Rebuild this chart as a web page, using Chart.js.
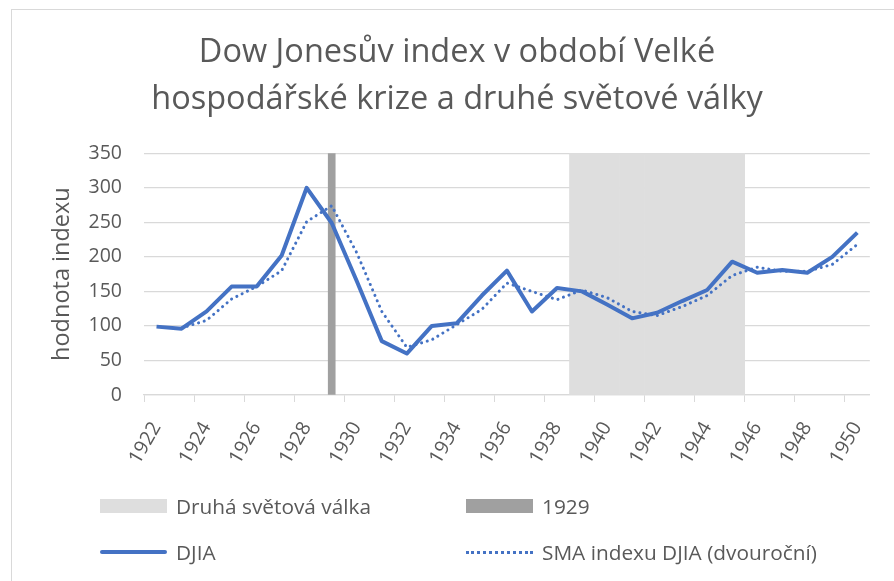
<!DOCTYPE html>
<html>
<head>
<meta charset="utf-8">
<script src="https://cdn.jsdelivr.net/npm/chart.js@4/dist/chart.umd.min.js"></script>
<style>
    html, body { margin: 0; padding: 0; background: #fff; }
    body { width: 894px; height: 581px; position: relative; overflow: hidden; font-family: "Open Sans", Lato, sans-serif; }
    .frame { position: absolute; left: 11px; top: 9px; width: 1000px; height: 700px; border: 1px solid #d9d9d9; }
    .chart-box { position: absolute; left: 0; top: 0; width: 894px; height: 581px; }
    .legend { position: absolute; left: 0; top: 0; color: #595959; font-size: 20.8px; }
    .legend__item { position: absolute; display: flex; align-items: center; white-space: nowrap; height: 26px; }
    .legend__swatch { width: 67px; height: 14px; margin-right: 9px; }
    .legend__line { width: 67px; height: 0; margin-right: 9px; }
</style>
</head>
<body>
<div class="frame"></div>
<div class="chart-box"><canvas id="djiaChart" width="894" height="581"></canvas></div>
<div class="legend">
    <div class="legend__item" style="left:100px; top:493px;">
        <span class="legend__swatch" style="background:#dedede;"></span>Druhá světová válka
    </div>
    <div class="legend__item" style="left:466px; top:493px;">
        <span class="legend__swatch" style="background:#a0a0a0;"></span>1929
    </div>
    <div class="legend__item" style="left:100px; top:539px;">
        <span class="legend__line" style="border-top:4px solid #4472c4; border-radius:2px;"></span>DJIA
    </div>
    <div class="legend__item" style="left:466px; top:539px;">
        <span class="legend__line" style="border-top:3px dotted #4472c4;"></span>SMA indexu DJIA (dvouroční)
    </div>
</div>
<script>
const years = ['1922', '1923', '1924', '1925', '1926', '1927', '1928', '1929', '1930', '1931',
    '1932', '1933', '1934', '1935', '1936', '1937', '1938', '1939', '1940', '1941',
    '1942', '1943', '1944', '1945', '1946', '1947', '1948', '1949', '1950'];

const djia = [99, 96, 121, 157, 157, 202, 300, 249, 165, 78,
    60, 100, 104, 144, 180, 121, 155, 150, 131, 111,
    119, 136, 152, 193, 177, 181, 177, 200, 235];

const smaTwoYear = [null, 97, 108, 139, 157, 180, 251, 274, 206, 121,
    69, 80, 102, 124, 162, 150, 138, 152, 141, 121,
    115, 128, 144, 173, 185, 179, 179, 189, 218];

// shaded band 1939-1945 and the 1929 marker, both full axis height
const warBand = [null, null, null, null, null, null, null, null, null, null,
    null, null, null, null, null, null, null, 350, 350, 350,
    350, 350, 350, 350, null, null, null, null, null];

const crash1929 = [null, null, null, null, null, null, null, 350, null, null,
    null, null, null, null, null, null, null, null, null, null,
    null, null, null, null, null, null, null, null, null];

const yTicks = [0, 50, 100, 150, 200, 250, 300, 350];

const textColor = '#595959';
const gridColor = '#d9d9d9';
const fontFamily = '"Open Sans", Lato, sans-serif';

new Chart(document.getElementById('djiaChart'), {
    data: {
        labels: years,
        datasets: [
            {
                type: 'line',
                label: 'DJIA',
                data: djia,
                borderColor: '#4472c4',
                borderWidth: 4,
                pointRadius: 0,
                tension: 0,
                borderJoinStyle: 'round',
                order: 1,
            },
            {
                type: 'line',
                label: 'SMA indexu DJIA (dvouroční)',
                data: smaTwoYear,
                borderColor: '#4472c4',
                borderWidth: 3,
                borderDash: [0.1, 5.8],
                borderCapStyle: 'round',
                pointRadius: 0,
                tension: 0,
                order: 2,
            },
            {
                type: 'bar',
                label: '1929',
                data: crash1929,
                backgroundColor: '#a0a0a0',
                barThickness: 7,
                grouped: false,
                order: 3,
            },
            {
                type: 'bar',
                label: 'Druhá světová válka',
                data: warBand,
                backgroundColor: '#dedede',
                barPercentage: 1,
                categoryPercentage: 1,
                grouped: false,
                order: 4,
            },
        ],
    },
    options: {
        responsive: false,
        animation: false,
        layout: {
            padding: { left: 44, right: 24, top: 0, bottom: 108 },
        },
        plugins: {
            legend: { display: false },
            tooltip: { enabled: false },
            title: {
                display: true,
                text: ['Dow Jonesův index v období Velké', 'hospodářské krize a druhé světové války'],
                color: textColor,
                font: { family: fontFamily, size: 32.5, weight: 'normal', lineHeight: 1.45 },
                padding: { top: 29, bottom: 30 },
            },
        },
        scales: {
            x: {
                offset: true,
                afterFit: (scale) => { scale.height = 78; },
                grid: {
                    offset: true,
                    drawOnChartArea: false,
                    tickLength: 7,
                    color: (ctx) => (ctx.index % 2 === 0 ? gridColor : 'rgba(0,0,0,0)'),
                },
                border: { color: gridColor, width: 1.3 },
                ticks: {
                    autoSkip: false,
                    maxRotation: 60,
                    minRotation: 60,
                    padding: 16,
                    color: textColor,
                    font: { family: fontFamily, size: 19.5 },
                    callback: (value, index) => (index % 2 === 0 ? years[index] : ''),
                },
            },
            y: {
                min: 0,
                max: 350,
                afterFit: (scale) => { scale.width = 100; },
                afterBuildTicks: (scale) => { scale.ticks = yTicks.map((v) => ({ value: v })); },
                grid: { color: gridColor, lineWidth: 1.3, drawTicks: false },
                border: { display: false },
                ticks: {
                    padding: 22,
                    color: textColor,
                    font: { family: fontFamily, size: 19.5 },
                },
                title: {
                    display: true,
                    text: 'hodnota indexu',
                    color: textColor,
                    font: { family: fontFamily, size: 23.5 },
                    padding: { top: 4, bottom: 0 },
                },
            },
        },
    },
});
</script>
</body>
</html>
